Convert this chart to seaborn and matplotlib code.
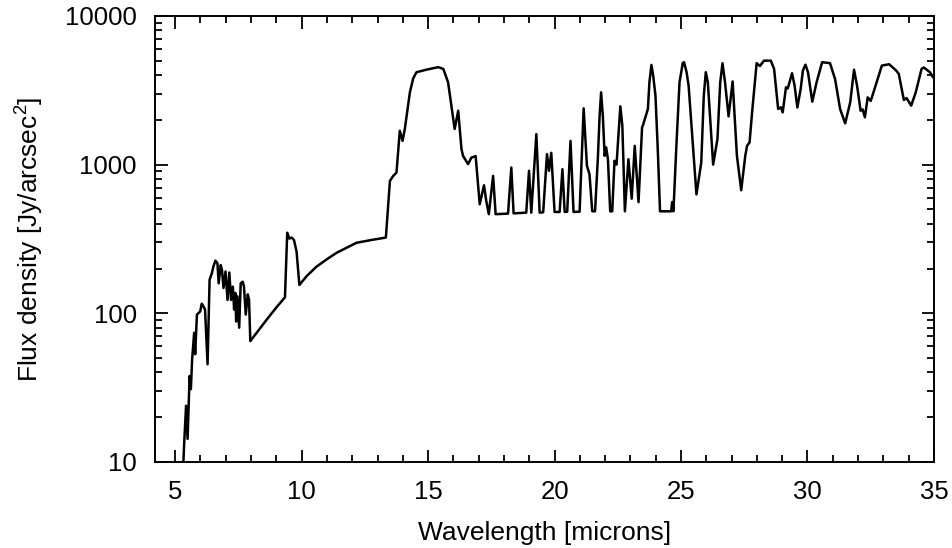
import numpy as np
import pandas as pd
import matplotlib
matplotlib.use("Agg")
import matplotlib.pyplot as plt
from matplotlib.ticker import MultipleLocator, FixedLocator, FixedFormatter, NullFormatter
import seaborn as sns

# wavelength [microns] and flux density [Jy/arcsec^2]
wavelength = [
    5.30, 5.355, 5.43, 5.49, 5.57, 5.62, 5.67, 5.75, 5.79, 5.86, 5.99, 6.05, 6.12, 6.18,
    6.28, 6.36, 6.45, 6.51, 6.59, 6.67, 6.72, 6.80, 6.85, 6.91, 6.99, 7.07, 7.14, 7.21,
    7.28, 7.33, 7.38, 7.41, 7.46, 7.53, 7.59, 7.67, 7.72, 7.79, 7.87, 7.92, 7.97,
    8.62, 9.01, 9.34, 9.43, 9.51, 9.61, 9.70, 9.80, 9.91,
    10.2, 10.59, 11.0, 11.38, 12.17, 12.8, 13.33,
    13.49, 13.62, 13.75, 13.88, 13.99, 14.08, 14.28, 14.41, 14.54, 14.94, 15.4, 15.6, 15.79,
    16.05, 16.19, 16.32, 16.38, 16.58, 16.71, 16.88, 17.04, 17.21, 17.30, 17.40, 17.57,
    17.67, 18.16, 18.29, 18.38, 18.88, 18.99, 19.08, 19.28, 19.41, 19.55, 19.70, 19.78,
    19.87, 20.0, 20.2, 20.31, 20.4, 20.5, 20.63, 20.75, 20.99, 21.15, 21.28, 21.38,
    21.49, 21.6, 21.71, 21.78, 21.84, 21.91, 21.98, 22.04, 22.11, 22.2, 22.28, 22.37,
    22.45, 22.6, 22.68, 22.78, 22.92, 23.05, 23.17, 23.32, 23.46, 23.5, 23.69, 23.75,
    23.83, 23.9, 23.99, 24.08, 24.17, 24.61, 24.65, 24.7, 24.81, 24.94, 25.07, 25.12,
    25.22, 25.3, 25.61, 25.8, 25.9, 25.98, 26.06, 26.27, 26.44, 26.55, 26.64, 26.74,
    26.88, 27.04, 27.21, 27.38, 27.54, 27.61, 27.71, 27.81, 27.91, 27.99, 28.12,
    28.28, 28.55, 28.68, 28.84, 28.95, 29.02, 29.15, 29.22, 29.39, 29.49, 29.6, 29.73,
    29.82, 29.92, 30.02, 30.19, 30.36, 30.58, 30.89, 31.09, 31.29, 31.49, 31.69, 31.84,
    31.96, 32.1, 32.18, 32.27, 32.38, 32.5, 32.63, 32.94, 33.23, 33.5, 33.61, 33.81,
    33.92, 34.1, 34.28, 34.51, 34.6, 34.84, 34.97,
]
flux = [
    8, 13.3, 23.9, 14.3, 37.9, 30.9, 49, 74, 53, 98, 103, 116, 111, 106,
    45.4, 168, 186, 206, 226, 217, 159, 211, 196, 148, 191, 123, 188, 123,
    151, 106, 137, 88, 130, 80, 159, 163, 151, 98, 134, 123, 65,
    90.7, 110, 128, 348, 318, 323, 310, 259, 155,
    178, 206, 231, 255, 298, 312, 323,
    777, 839, 883, 1687, 1444, 1740, 3064, 3800, 4180, 4350, 4520, 4400, 3575,
    1735, 2303, 1270, 1145, 1007, 1113, 1140, 541, 726, 569, 464, 840,
    464, 468, 956, 470, 475, 908, 475, 1603, 475, 478, 1175, 908,
    1200, 480, 480, 931, 480, 482, 1444, 480, 482, 2390, 980, 862,
    485, 485, 1087, 2110, 3060, 2110, 1145, 1304, 1087, 485, 485, 1060,
    1000, 2466, 1824, 485, 1087, 590, 1337, 559, 1779, 1850, 2366, 3575,
    4680, 3963, 2900, 1270, 485, 485, 560, 485, 1270, 3575, 4830, 4880,
    4180, 3400, 630, 1033, 2900, 4180, 3575, 1000, 1483, 3575, 4810, 3575,
    2110, 3625, 1145, 672, 1145, 1337, 1409, 2245, 3397, 4810, 4600,
    5000, 5000, 4400, 2366, 2427, 2245, 3310, 3250, 4115, 3397, 2420, 3222,
    4300, 4700, 4180, 2650, 3575, 4880, 4810, 3767, 2366, 1893, 2623, 4350,
    3397, 2303, 2350, 2080, 2832, 2680, 3140, 4630, 4730, 4300, 4070, 2720,
    2800, 2490, 3060, 4400, 4500, 4180, 3850,
]

x_ticks = [5, 10, 15, 20, 25, 30, 35]
y_ticks = [10, 100, 1000, 10000]
y_tick_labels = ["10", "100", "1000", "10000"]

sns.set_theme(style="ticks")
plt.rcParams["font.family"] = ["Liberation Sans", "DejaVu Sans"]
plt.rcParams["mathtext.default"] = "regular"
plt.rcParams["text.color"] = "black"
plt.rcParams["axes.labelcolor"] = "black"

df = pd.DataFrame({"wavelength": wavelength, "flux": flux})

fig, ax = plt.subplots(figsize=(9.53, 5.48), dpi=100)
fig.subplots_adjust(left=0.1626, right=0.980, top=0.971, bottom=0.157)

sns.lineplot(data=df, x="wavelength", y="flux", ax=ax, color="black",
             linewidth=1.8, sort=False, estimator=None)

ax.set_yscale("log")
ax.set_xlim(4.2, 35)
ax.set_ylim(10, 10000)

ax.xaxis.set_major_locator(FixedLocator(x_ticks))
ax.xaxis.set_minor_locator(MultipleLocator(1))
ax.yaxis.set_major_locator(FixedLocator(y_ticks))
ax.yaxis.set_major_formatter(FixedFormatter(y_tick_labels))
ax.yaxis.set_minor_formatter(NullFormatter())

ax.tick_params(which="both", direction="in", top=True, right=True,
               width=1.3, colors="black", labelsize=18.5)
ax.tick_params(which="major", length=9, pad=13)
ax.tick_params(which="minor", length=5)
for s in ax.spines.values():
    s.set_linewidth(1.4)
    s.set_color("black")

ax.set_xlabel("Wavelength [microns]", fontsize=19, labelpad=12, color="black")
ax.set_ylabel("Flux density [Jy/arcsec$^2$]", fontsize=19, labelpad=14, color="black")

fig.savefig("out.png", dpi=100)
